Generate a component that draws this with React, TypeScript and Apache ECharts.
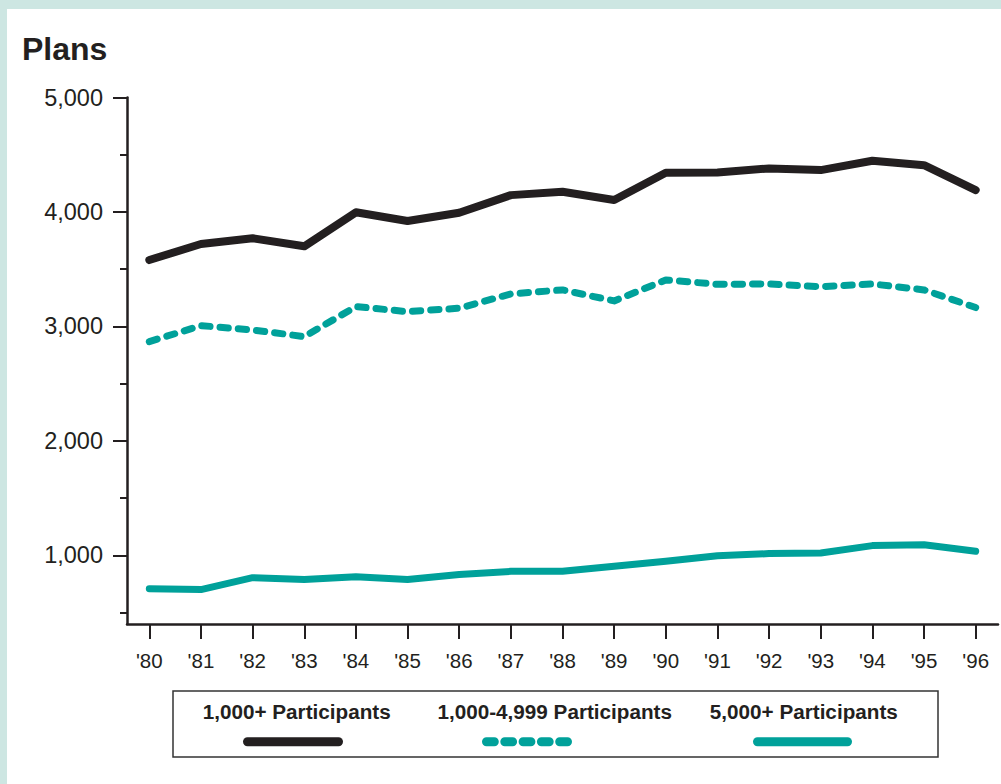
import React, { useEffect, useRef } from "react";
import * as echarts from "echarts";

const years = ["'80", "'81", "'82", "'83", "'84", "'85", "'86", "'87", "'88", "'89", "'90", "'91", "'92", "'93", "'94", "'95", "'96"];
const plans1000plus = [3580, 3720, 3770, 3700, 3997, 3921, 3993, 4147, 4176, 4104, 4342, 4345, 4380, 4366, 4447, 4409, 4191];
const plans1000to4999 = [2867, 3007, 2969, 2911, 3173, 3129, 3159, 3284, 3319, 3223, 3406, 3368, 3371, 3347, 3371, 3319, 3165];
const plans5000plus = [709, 701, 805, 788, 812, 788, 832, 860, 860, 904, 948, 997, 1015, 1021, 1085, 1093, 1035];
const yMajorTicks = [1000, 2000, 3000, 4000, 5000];
const yMinorTicks = [500, 1500, 2500, 3500, 4500];
const seriesNames = ["1,000+ Participants", "1,000-4,999 Participants", "5,000+ Participants"];

const INK = "#231f20";
const TEAL = "#00a19a";
const FONT = "'Liberation Sans', Arial, Helvetica, sans-serif";

export default function App() {
  const ref = useRef<HTMLDivElement>(null);
  useEffect(() => {
    if (!ref.current) return;
    const chart = echarts.init(ref.current, null, { renderer: "svg" });
    const idx = years.map((_, i) => i);
    const toPts = (arr: number[]) => arr.map((v, i) => [i, v]);
    chart.setOption({
      animation: false,
      backgroundColor: "transparent",
      grid: { left: 127, right: 3, top: 97.5, bottom: 160, containLabel: false },
      xAxis: {
        type: "value",
        min: -0.432,
        max: years.length - 1 + 0.432,
        splitLine: { show: false },
        axisLine: { show: true, onZero: false, lineStyle: { color: INK, width: 2.5 } },
        axisTick: { show: true, customValues: idx, length: 15, lineStyle: { color: INK, width: 2 } },
        axisLabel: {
          customValues: idx,
          formatter: (v: number) => years[Math.round(v)] ?? "",
          color: INK,
          fontFamily: FONT,
          fontSize: 20.5,
          margin: 26,
        },
      },
      yAxis: [
        {
          type: "value",
          position: "left",
          min: 400,
          max: 5000,
          splitLine: { show: false },
          axisLine: { show: true, onZero: false, lineStyle: { color: INK, width: 2.5 } },
          axisTick: { show: true, customValues: yMajorTicks, length: 14, lineStyle: { color: INK, width: 2 } },
          axisLabel: {
            customValues: yMajorTicks,
            formatter: (v: number) => v.toLocaleString("en-US"),
            color: INK,
            fontFamily: FONT,
            fontSize: 23.5,
            margin: 24,
          },
        },
        {
          type: "value",
          position: "left",
          offset: 0,
          min: 400,
          max: 5000,
          splitLine: { show: false },
          axisLine: { show: false, onZero: false },
          axisTick: { show: true, customValues: yMinorTicks, length: 7, lineStyle: { color: INK, width: 2 } },
          axisLabel: { show: false },
        },
      ],
      series: [
        {
          name: seriesNames[0],
          type: "line",
          data: toPts(plans1000plus),
          symbol: "none",
          lineStyle: { color: INK, width: 8, cap: "round", join: "round" },
        },
        {
          name: seriesNames[1],
          type: "line",
          data: toPts(plans1000to4999),
          symbol: "none",
          lineStyle: { color: TEAL, width: 7, type: [8.3, 10], cap: "round", join: "round" },
        },
        {
          name: seriesNames[2],
          type: "line",
          data: toPts(plans5000plus),
          symbol: "none",
          lineStyle: { color: TEAL, width: 7, cap: "round", join: "round" },
        },
      ],
      graphic: [
        {
          type: "text",
          x: 22,
          y: 48.5,
          style: { text: "Plans", fill: INK, font: `bold 32px ${FONT}`, verticalAlign: "middle", align: "left" },
        },
        {
          type: "rect",
          shape: { x: 173, y: 691, width: 765, height: 66 },
          style: { fill: "none", stroke: "#333333", lineWidth: 1.5 },
        },
        {
          type: "text",
          x: 296.7,
          y: 711,
          style: { text: seriesNames[0], fill: INK, font: `bold 20.7px ${FONT}`, align: "center", verticalAlign: "middle" },
        },
        {
          type: "text",
          x: 554.7,
          y: 711,
          style: { text: seriesNames[1], fill: INK, font: `bold 20.7px ${FONT}`, align: "center", verticalAlign: "middle" },
        },
        {
          type: "text",
          x: 803.8,
          y: 711,
          style: { text: seriesNames[2], fill: INK, font: `bold 20.7px ${FONT}`, align: "center", verticalAlign: "middle" },
        },
        {
          type: "line",
          shape: { x1: 247.5, y1: 741.7, x2: 338.5, y2: 741.7 },
          style: { stroke: INK, lineWidth: 9, lineCap: "round" },
        },
        {
          type: "line",
          shape: { x1: 486.5, y1: 741.7, x2: 568, y2: 741.7 },
          style: { stroke: TEAL, lineWidth: 9, lineCap: "round", lineDash: [7.8, 10.5] },
        },
        {
          type: "line",
          shape: { x1: 757.5, y1: 741.7, x2: 847.5, y2: 741.7 },
          style: { stroke: TEAL, lineWidth: 9, lineCap: "round" },
        },
      ],
    });
    return () => chart.dispose();
  }, []);

  return (
    <div style={{ position: "fixed", left: 0, top: 0, width: 1001, height: 784, background: "#cde6e2" }}>
      <div style={{ position: "absolute", left: 7, top: 9, right: 0, bottom: 0, background: "#ffffff" }} />
      <div ref={ref} style={{ position: "absolute", left: 0, top: 0, width: 1001, height: 784 }} />
    </div>
  );
}
